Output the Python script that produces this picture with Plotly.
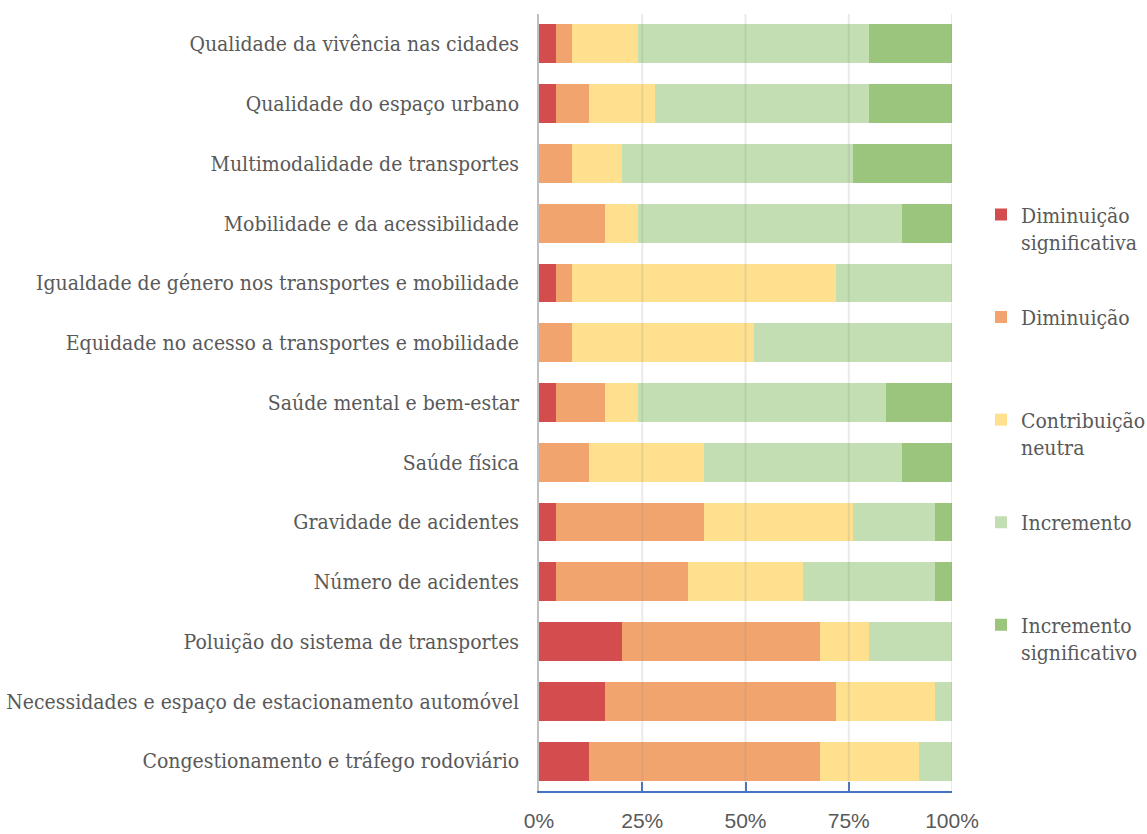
import plotly.graph_objects as go

# Impact categories, listed top to bottom
categories = [
    "Qualidade da vivência nas cidades",
    "Qualidade do espaço urbano",
    "Multimodalidade de transportes",
    "Mobilidade e da acessibilidade",
    "Igualdade de género nos transportes e mobilidade",
    "Equidade no acesso a transportes e mobilidade",
    "Saúde mental e bem-estar",
    "Saúde física",
    "Gravidade de acidentes",
    "Número de acidentes",
    "Poluição do sistema de transportes",
    "Necessidades e espaço de estacionamento automóvel",
    "Congestionamento e tráfego rodoviário",
]

# Share of answers (%) per response level
diminuicao_significativa = [4, 4, 0, 0, 4, 0, 4, 0, 4, 4, 20, 16, 12]
diminuicao = [4, 8, 8, 16, 4, 8, 12, 12, 36, 32, 48, 56, 56]
contribuicao_neutra = [16, 16, 12, 8, 64, 44, 8, 28, 36, 28, 12, 24, 24]
incremento = [56, 52, 56, 64, 28, 48, 60, 48, 20, 32, 20, 4, 8]
incremento_significativo = [20, 20, 24, 12, 0, 0, 16, 12, 4, 4, 0, 0, 0]

series_names = [
    "Diminuição<br>significativa",
    "Diminuição<br>&nbsp;",
    "Contribuição<br>neutra",
    "Incremento<br>&nbsp;",
    "Incremento<br>significativo",
]
series_values = [
    diminuicao_significativa,
    diminuicao,
    contribuicao_neutra,
    incremento,
    incremento_significativo,
]
series_colors = ["#D34C4E", "#F2A46E", "#FFE08F", "#C3DEB2", "#9BC47D"]

tick_vals = [0, 25, 50, 75, 100]
tick_text = ["0%", "25%", "50%", "75%", "100%"]

label_color = "#595959"
serif = "DejaVu Serif Condensed, DejaVu Serif"
sans = "Liberation Sans, Arial, sans-serif"

fig = go.Figure()
for i, (name, vals, color) in enumerate(zip(series_names, series_values, series_colors)):
    fig.add_trace(
        go.Bar(
            y=categories,
            x=vals,
            name=name,
            orientation="h",
            marker=dict(color=color, line=dict(width=0)),
            legendgroup=f"g{i}",
            hovertemplate="%{y}: %{x}%<extra></extra>",
        )
    )

# Light vertical gridlines drawn above the bars
for v in tick_vals[1:]:
    fig.add_shape(
        type="line", xref="x", yref="paper",
        x0=v, x1=v, y0=0, y1=1.0,
        line=dict(color="rgba(140,140,140,0.18)", width=2),
        layer="above",
    )

fig.update_layout(
    barmode="stack",
    bargap=0.35,
    width=1147,
    height=834,
    margin=dict(l=539, r=195, t=14, b=43, autoexpand=False),
    paper_bgcolor="white",
    plot_bgcolor="white",
    showlegend=True,
    legend=dict(
        x=(981 - 539) / 413, xanchor="left",
        y=0.768, yanchor="top",
        traceorder="grouped",
        tracegroupgap=45,
        valign="top",
        font=dict(family=serif, size=21, color=label_color),
        itemwidth=30,
        bgcolor="rgba(0,0,0,0)",
    ),
    xaxis=dict(
        range=[0, 100],
        tickvals=tick_vals,
        ticktext=tick_text,
        showgrid=False,
        zeroline=False,
        showline=True,
        linecolor="#4472C4",
        linewidth=1.5,
        ticks="inside",
        ticklen=9,
        tickwidth=1.5,
        tickcolor="#4472C4",
        ticklabelstandoff=10,
        tickfont=dict(family=sans, size=21, color=label_color),
        automargin=False,
        fixedrange=True,
    ),
    yaxis=dict(
        categoryorder="array",
        categoryarray=categories,
        autorange="reversed",
        showgrid=False,
        zeroline=False,
        showline=True,
        linecolor="#BFBFBF",
        linewidth=1.5,
        ticks="",
        ticklabelstandoff=14,
        tickfont=dict(family=serif, size=21, color=label_color),
        automargin=False,
        fixedrange=True,
    ),
)

fig.write_html("out.html")
